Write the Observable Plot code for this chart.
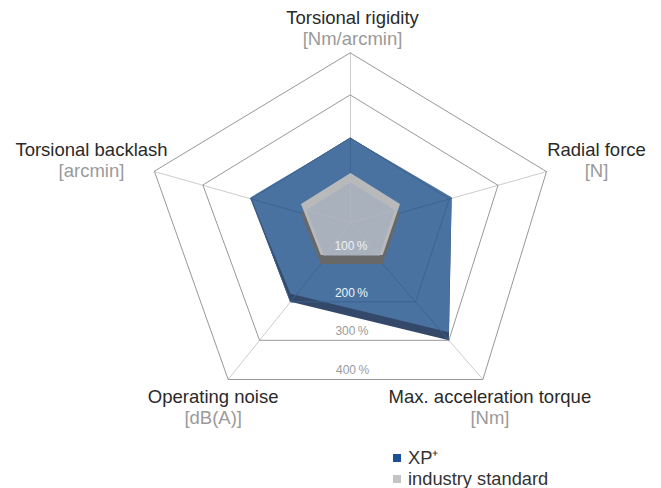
<!DOCTYPE html>
<html>
<head>
<meta charset="utf-8">
<script src="https://cdn.jsdelivr.net/npm/d3@7"></script>
<script src="https://cdn.jsdelivr.net/npm/@observablehq/plot@0.6"></script>
<style>
  html, body { margin: 0; padding: 0; background: #fff; }
  body { width: 661px; font-family: "Liberation Sans", Arial, Helvetica, sans-serif; }
  #legend { margin-top: 7px; padding-left: 393px; color: #333; font-size: 18.3px; line-height: 21px; }
  #legend .row { display: flex; align-items: center; height: 21px; }
  #legend .sw { width: 8px; height: 8px; margin-right: 7px; display: inline-block; }
</style>
</head>
<body>
<div id="chart"></div>
<div id="legend"></div>
<script>
// ---- data ----
const axes = ["Torsional rigidity", "Radial force", "Max. acceleration torque", "Operating noise", "Torsional backlash"];
const units = ["[Nm/arcmin]", "[N]", "[Nm]", "[dB(A)]", "[arcmin]"];
const xpPlus = [200, 205, 300, 200, 203];
const industryStandard = [100, 100, 100, 100, 100];
const ringLevels = [100, 200, 300, 400];
const ringLabels = ["100\u2009%", "200\u2009%", "300\u2009%", "400\u2009%"];
const seriesNames = ["XP\u207A", "industry standard"];

// ---- layout / style ----
const W = 661, H = 440;
const XPX = 0.5223, YPX = 0.4543;      // px per unit
const CX = 350, CY = 226.5;            // centre in px
const K = 0.0444;                      // perspective strength
const SHEAR = 0.033;                   // slight yaw of the lower half
const blueFace = "#4a72a0", blueSide = "#34486a", blueLine = "#3b628f";
const greyTop = "#b8b9bb", greyFace = "#a9b1bd", greySide = "#686868";
const font = "Liberation Sans, Arial, Helvetica, sans-serif";
const FS = 18.5;

function project(r, i) {
  const th = i * 2 * Math.PI / 5;
  const u = r * Math.sin(th), v = r * Math.cos(th);
  const s = 1 / (1 + K * v / 400);
  const y = v * s;
  const x = u * s + SHEAR * Math.max(0, -y * YPX) / XPX;
  return [x, y];
}
const pt = (r, i, liftPx = 0) => { const [x, y] = project(r, i); return {x, y: y + liftPx / YPX}; };
const faceLift = i => 10 * Math.pow((1 - Math.cos(i * 2 * Math.PI / 5)) / 2, 2);

const idx = axes.map((_, i) => i);
const rings = ringLevels.flatMap(r => idx.map(i => ({...pt(r, i), level: r})));
const spokes = idx.flatMap(i => [{...pt(0, i), k: i}, {...pt(400, i), k: i}]);
const innerSpokes = idx.flatMap(i => [{...pt(0, i), k: i}, {...pt(xpPlus[i], i), k: i}]);
const ring200 = idx.map(i => pt(200, i));
const xpBase = idx.map(i => pt(xpPlus[i], i));
const xpFace = idx.map(i => pt(xpPlus[i], i, faceLift(i)));
const isBase = idx.map(i => pt(industryStandard[i], i));
const isFace = idx.map(i => pt(industryStandard[i] * 0.89, i));
const isSpokes = idx.flatMap(i => [{...pt(0, i), k: i}, {...pt(industryStandard[i] * 0.89, i), k: i}]);
const pctLabels = ringLevels.map((r, j) => {
  const a = pt(r, 2), b = pt(r, 3);
  return {x: (a.x + b.x) / 2 - SHEAR * 0.6 * Math.max(0, -a.y * YPX) / XPX, y: (a.y + b.y) / 2 + (j === 0 ? 9 / YPX : 0), text: ringLabels[j], light: j < 2};
});

const labelDx = [2, 50, 7, -15, -63];
const labelDy = [-35, -22, 18, 18, -22];
const labelMarks = idx.flatMap(i => {
  const v = pt(400, i);
  return [
    Plot.text([v], {x: "x", y: "y", text: () => axes[i], dx: labelDx[i], dy: labelDy[i], fill: "#2a2a2a", fontSize: FS, fontFamily: font}),
    Plot.text([v], {x: "x", y: "y", text: () => units[i], dx: labelDx[i], dy: labelDy[i] + 21, fill: "#9a9a9a", fontSize: FS, fontFamily: font})
  ];
});

const chart = Plot.plot({
  width: W, height: H,
  margin: 0,
  x: {domain: [-CX / XPX, (W - CX) / XPX], axis: null},
  y: {domain: [-(H - CY) / YPX, CY / YPX], axis: null},
  style: {fontFamily: font, background: "white"},
  marks: [
    Plot.line(spokes, {x: "x", y: "y", z: "k", stroke: "#c6c6c6", strokeWidth: 0.9}),
    Plot.line(rings, {x: "x", y: "y", z: "level", curve: "linear-closed", stroke: "#8c8c8c", strokeWidth: 0.9}),
    // XP+ (3D-ish)
    Plot.line(xpBase, {x: "x", y: "y", curve: "linear-closed", fill: blueSide, stroke: "none"}),
    Plot.line(xpFace, {x: "x", y: "y", curve: "linear-closed", fill: blueFace, stroke: "none"}),
    Plot.line(innerSpokes, {x: "x", y: "y", z: "k", stroke: blueLine, strokeWidth: 0.9}),
    Plot.line(ring200, {x: "x", y: "y", curve: "linear-closed", stroke: blueLine, strokeWidth: 0.9}),
    // industry standard
    Plot.line(isBase, {x: "x", y: "y", curve: "linear-closed", fill: greySide, stroke: "none"}),
    Plot.line(isBase, {x: "x", y: "y", curve: "linear-closed", fill: greyTop, stroke: "none", dy: -9}),
    Plot.line(isFace, {x: "x", y: "y", curve: "linear-closed", fill: greyFace, stroke: "none", dy: -4.5}),
    Plot.line(isSpokes, {x: "x", y: "y", z: "k", stroke: "#b2b8c2", strokeWidth: 0.8, dy: -4.5}),
    // percentage labels
    Plot.text(pctLabels, {x: "x", y: "y", text: "text", dy: -9, fill: d => d.light ? "#eef2f7" : "#9a9a9a", fontSize: 12, fontFamily: font}),
    ...labelMarks
  ]
});
document.getElementById("chart").appendChild(chart);

const legendColors = ["#1c4f95", "#c4c4c4"];
document.getElementById("legend").innerHTML = seriesNames.map((n, i) =>
  `<div class="row"><span class="sw" style="background:${legendColors[i]}"></span><span>${n}</span></div>`).join("");
</script>
</body>
</html>
